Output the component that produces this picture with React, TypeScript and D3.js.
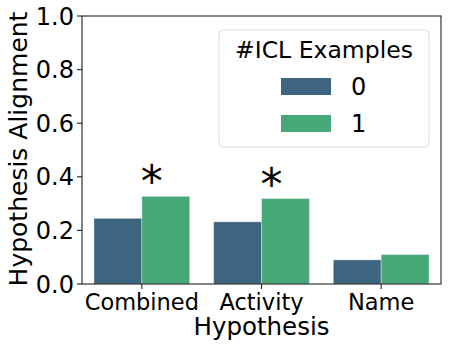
import React from 'react';
import * as d3 from 'd3';

const categories = ['Combined', 'Activity', 'Name'];
const groups = ['0', '1'];
const values0 = [0.245, 0.232, 0.09];
const values1 = [0.327, 0.319, 0.11];
const significant = [true, true, false];
const yTicks = [0, 0.2, 0.4, 0.6, 0.8, 1.0];
const colors = ['#3e6580', '#47a878'];

const W = 449;
const H = 349;
const margin = { left: 82, right: 8, top: 16, bottom: 65 };
const font = 'DejaVu Sans, sans-serif';

const App = () => {
    const x0 = margin.left;
    const x1 = W - margin.right;
    const yB = H - margin.bottom;
    const xScale = d3.scaleBand().domain(categories).range([x0, x1]).paddingInner(0).paddingOuter(0);
    const inner = d3.scaleBand().domain(groups).range([0, xScale.bandwidth() * 0.8]);
    const yScale = d3.scaleLinear().domain([0, 1]).range([yB, margin.top]);
    const series = [values0, values1];

    return (
        <svg width={W} height={H} style={{ position: 'absolute', left: 0, top: 0, background: '#fff' }} fontFamily={font}>
            {categories.map((c, i) => {
                const start = xScale(c)! + xScale.bandwidth() * 0.1;
                const mid = xScale(c)! + xScale.bandwidth() / 2;
                return (
                    <g key={c}>
                        {series.map((vals, g) => (
                            <rect
                                key={g}
                                x={start + inner(groups[g])!}
                                y={yScale(vals[i])}
                                width={inner.bandwidth()}
                                height={yB - yScale(vals[i])}
                                fill={colors[g]}
                                stroke="#ffffff"
                                strokeOpacity={0.35}
                                strokeWidth={1}
                            />
                        ))}
                        {significant[i] && (
                            <text x={mid + 10} y={yScale(Math.max(values0[i], values1[i])) + 1}
                                textAnchor="middle" fontSize={44}>*</text>
                        )}
                    </g>
                );
            })}
            {/* frame */}
            <rect x={x0} y={margin.top} width={x1 - x0} height={yB - margin.top} fill="none" stroke="#222" strokeWidth={1.1} />
            {/* y axis */}
            {yTicks.map(t => (
                <g key={t} transform={`translate(${x0},${yScale(t)})`}>
                    <line x1={-5} x2={0} stroke="#222" strokeWidth={1.1} />
                    <text x={-8} dy="0.36em" textAnchor="end" fontSize={24} fill="#000">{t.toFixed(1)}</text>
                </g>
            ))}
            {/* x axis */}
            {categories.map(c => (
                <g key={c} transform={`translate(${xScale(c)! + xScale.bandwidth() / 2},${yB})`}>
                    <line y2={5} stroke="#222" strokeWidth={1.1} />
                    <text y={25.5} textAnchor="middle" fontSize={22.5} fill="#000">{c}</text>
                </g>
            ))}
            <text x={(x0 + x1) / 2} y={335} textAnchor="middle" fontSize={24.5}>Hypothesis</text>
            <text transform={`translate(27,${(margin.top + yB) / 2 - 1}) rotate(-90)`} textAnchor="middle" fontSize={25}>Hypothesis Alignment</text>
            {/* legend */}
            <g>
                <rect x={219} y={30} width={210} height={117} rx={4} fill="#fff" fillOpacity={0.8} stroke="#dddddd" />
                <text x={324} y={58} textAnchor="middle" fontSize={23.5}>#ICL Examples</text>
                {groups.map((g, i) => (
                    <g key={g} transform={`translate(281,${78 + i * 37})`}>
                        <rect width={50} height={17} fill={colors[i]} />
                        <text x={70} y={8.5} dy="0.36em" fontSize={24} textAnchor="start">{g}</text>
                    </g>
                ))}
            </g>
        </svg>
    );
};

export default App;
